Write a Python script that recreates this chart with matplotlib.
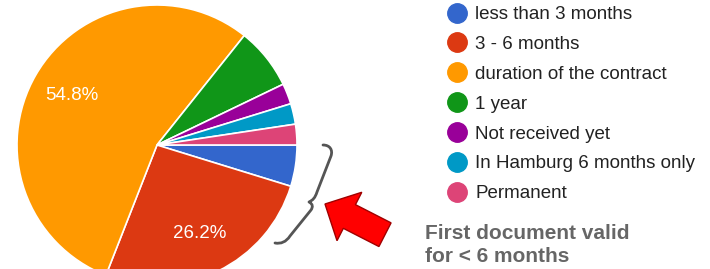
import matplotlib
matplotlib.use("Agg")
import matplotlib.pyplot as plt
from matplotlib.lines import Line2D
from matplotlib.path import Path
from matplotlib.patches import PathPatch, FancyArrow
from matplotlib.transforms import IdentityTransform

plt.rcParams['font.family'] = ['Liberation Sans', 'DejaVu Sans']

# answers (out of 42 responses)
categories = ['less than 3 months', '3 - 6 months', 'duration of the contract',
              '1 year', 'Not received yet', 'In Hamburg 6 months only', 'Permanent']
counts = [2, 11, 23, 3, 1, 1, 1]
colors = ['#3366CC', '#DC3912', '#FF9900', '#109618', '#990099', '#0099C6', '#DD4477']
note = 'First document valid\nfor < 6 months'

W, H = 710, 269
fig = plt.figure(figsize=(W / 100, H / 100), dpi=100)

# pie: centre (157,145) px, radius 140 px
cx, cy, r = 157, 145, 140
ax = fig.add_axes([(cx - r) / W, 1 - (cy + r) / H, 2 * r / W, 2 * r / H])


def pct(v):
    return f'{v:.1f}%' if v > 10 else ''


wedges, _, autotexts = ax.pie(counts, colors=colors, startangle=0, counterclock=False,
                              autopct=pct, pctdistance=0.7,
                              wedgeprops=dict(edgecolor='white', linewidth=1.2),
                              textprops=dict(color='white', fontsize=13.5))
ax.set_xlim(-1, 1)
ax.set_ylim(-1, 1)
ax.set_aspect('equal')

# legend
handles = [Line2D([], [], marker='o', linestyle='none', markersize=14,
                  markerfacecolor=c, markeredgecolor=c) for c in colors]
fig.legend(handles, categories, loc='upper left', bbox_to_anchor=(448 / W, 1 - 6 / H),
           frameon=False, fontsize=13.5, handlelength=0.95, handletextpad=0.5,
           borderpad=0, borderaxespad=0, labelspacing=0.68, labelcolor='#222222')


# brace (pixel coords, y from top)
def px(x, y):
    return (x, H - y)


verts = [px(323, 145), px(330, 145), px(333, 150), px(331, 156),
         px(317, 192),
         px(315, 198), px(313, 200), px(309, 202),
         px(313, 204), px(313, 207), px(311, 210),
         px(290, 236),
         px(286, 242), px(281, 244), px(275, 243)]
codes = [Path.MOVETO, Path.CURVE4, Path.CURVE4, Path.CURVE4,
         Path.LINETO,
         Path.CURVE4, Path.CURVE4, Path.CURVE4,
         Path.CURVE4, Path.CURVE4, Path.CURVE4,
         Path.LINETO,
         Path.CURVE4, Path.CURVE4, Path.CURVE4]
fig.patches.append(PathPatch(Path(verts, codes), fill=False, edgecolor='#555555',
                             linewidth=2.0, capstyle='round', joinstyle='round',
                             transform=IdentityTransform()))

# red arrow
fig.patches.append(FancyArrow(385, H - 234.7, -60, 30.7, width=26.6, head_width=54.4,
                              head_length=27.4, length_includes_head=True,
                              facecolor='#FF0000', edgecolor='#A00000', linewidth=1,
                              transform=IdentityTransform()))

fig.text(425 / W, 1 - 245 / H, note, fontsize=15, fontweight='bold', color='#666666',
         ha='left', va='center', linespacing=1.32)

fig.savefig('out.png', dpi=100)
